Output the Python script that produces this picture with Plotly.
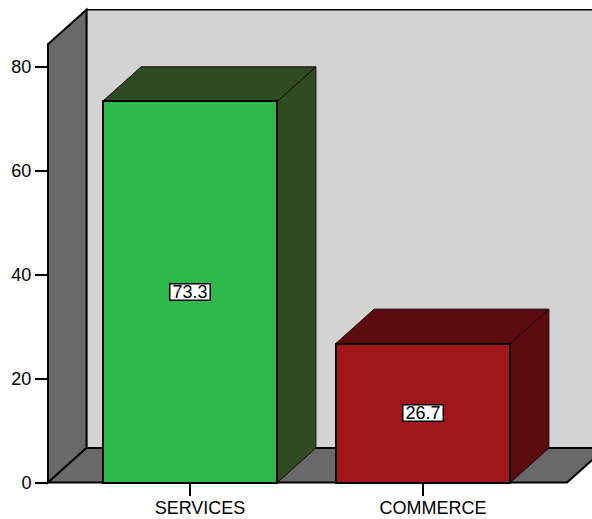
import plotly.graph_objects as go

# ---- data ----
categories = ["SERVICES", "COMMERCE"]
percentages = [73.3, 26.7]
face_colors = ["#2DB84B", "#A0161B"]
shade_colors = ["#2F4B22", "#5C0C0E"]
y_ticks = [0, 20, 40, 60, 80]

# ---- geometry ----
W, H = 592, 519
ML, MR, MT, MB = 46, 0, 5, 32
PX_PER_CAT = 233.0      # pixels between category centres
PX_PER_UNIT = 5.2       # pixels per y unit
X0_PX = 190.0           # pixel column of the first category
Y0_PX = 482.5           # pixel row of y = 0

x_range = [(ML - X0_PX) / PX_PER_CAT, (W - MR - X0_PX) / PX_PER_CAT]
y_range = [(Y0_PX - (H - MB)) / PX_PER_UNIT, (Y0_PX - MT) / PX_PER_UNIT]

DX = 38.5 / PX_PER_CAT  # depth offset (to the right)
DY = 34.5 / PX_PER_UNIT  # depth offset (upwards)
BAR_W = 0.75

BOX_L = (48 - X0_PX) / PX_PER_CAT
BOX_R = (567 - X0_PX) / PX_PER_CAT
WALL_TOP = 84.3


def poly(points):
    return "M " + " L ".join(f"{x},{y}" for x, y in points) + " Z"


shapes = []
outline = dict(color="black", width=1.5)

# back wall
shapes.append(dict(type="path", xref="x", yref="y", layer="below",
                   path=poly([(BOX_L + DX, DY), (BOX_R + DX, DY),
                              (BOX_R + DX, WALL_TOP + DY), (BOX_L + DX, WALL_TOP + DY)]),
                   fillcolor="#D3D3D3", line=outline))
# left wall
shapes.append(dict(type="path", xref="x", yref="y", layer="below",
                   path=poly([(BOX_L, 0), (BOX_L, WALL_TOP),
                              (BOX_L + DX, WALL_TOP + DY), (BOX_L + DX, DY)]),
                   fillcolor="#696969", line=dict(color="black", width=2)))
# floor
shapes.append(dict(type="path", xref="x", yref="y", layer="below",
                   path=poly([(BOX_L, 0), (BOX_R, 0), (BOX_R + DX, DY), (BOX_L + DX, DY)]),
                   fillcolor="#696969", line=dict(color="black", width=2)))

# top and side faces of each bar
for i, (v, sc) in enumerate(zip(percentages, shade_colors)):
    l, r = i - BAR_W / 2, i + BAR_W / 2
    shapes.append(dict(type="path", xref="x", yref="y", layer="below",
                       path=poly([(l, v), (r, v), (r + DX, v + DY), (l + DX, v + DY)]),
                       fillcolor=sc, line=dict(color="#1a0505", width=1)))
    shapes.append(dict(type="path", xref="x", yref="y", layer="below",
                       path=poly([(r, 0), (r, v), (r + DX, v + DY), (r + DX, DY)]),
                       fillcolor=sc, line=dict(color="#1a0505", width=1)))

fig = go.Figure()
fig.add_trace(go.Bar(
    x=categories, y=percentages, width=BAR_W,
    marker=dict(color=face_colors, line=dict(color="black", width=2)),
    hoverinfo="skip",
))

annotations = [
    dict(x=c, y=v / 2, xref="x", yref="y", text=f"{v:.1f}", showarrow=False,
         bgcolor="white", bordercolor="black", borderwidth=1.5, borderpad=0,
         width=39, height=15, font=dict(size=18, color="black"))
    for c, v in zip(categories, percentages)
]

font = dict(family="Liberation Sans, Arial, sans-serif", size=18, color="black")

fig.update_layout(
    width=W, height=H,
    margin=dict(l=ML, r=MR, t=MT, b=MB, pad=0),
    paper_bgcolor="white", plot_bgcolor="white",
    font=font, showlegend=False, bargap=0,
    shapes=shapes, annotations=annotations,
    xaxis=dict(type="category", range=x_range, showgrid=False, zeroline=False,
               showline=False, ticks="outside", ticklen=12, tickwidth=1.5,
               tickcolor="black", anchor="free",
               position=((H - MB) - Y0_PX) / (H - MT - MB), automargin=False,
               tickfont=font, ticklabelshift=10, ticklabelstandoff=-3,
               fixedrange=True),
    yaxis=dict(range=y_range, tickvals=y_ticks, showgrid=False, zeroline=False,
               showline=False, ticks="outside", ticklen=13, tickwidth=2,
               tickcolor="black", anchor="free",
               position=(48 - ML) / (W - ML - MR), automargin=False,
               tickfont=font, fixedrange=True),
)

fig.write_html("out.html")
